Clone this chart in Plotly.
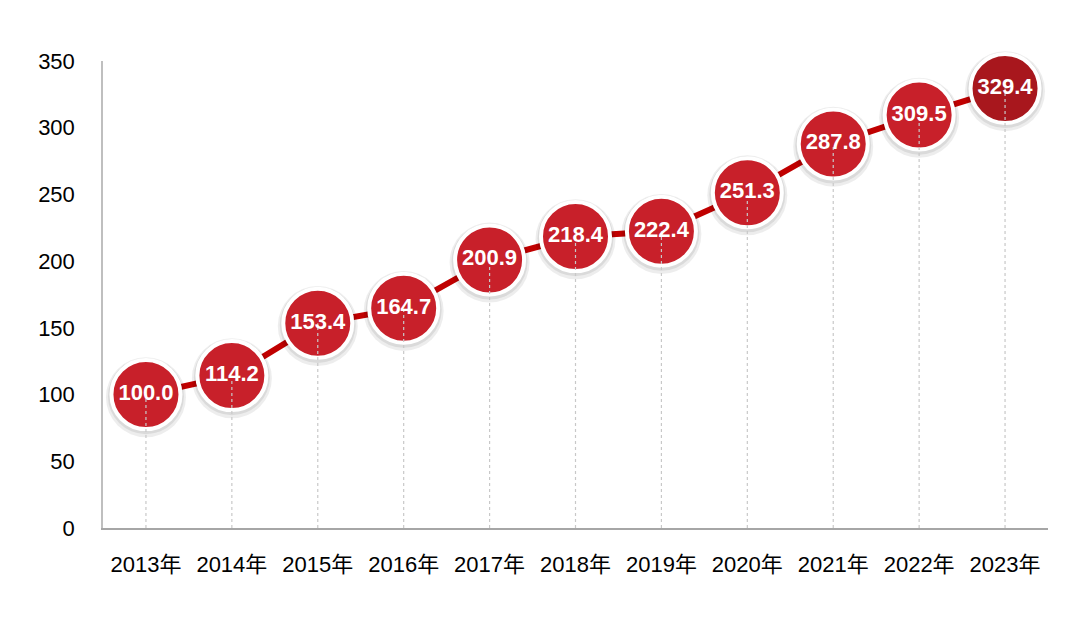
import plotly.graph_objects as go

years = ["2013年", "2014年", "2015年", "2016年", "2017年", "2018年",
         "2019年", "2020年", "2021年", "2022年", "2023年"]
values = [100.0, 114.2, 153.4, 164.7, 200.9, 218.4, 222.4, 251.3, 287.8, 309.5, 329.4]
y_ticks = [0, 50, 100, 150, 200, 250, 300, 350]

font_family = "Liberation Sans, Arial, Noto Sans CJK SC"
marker_colors = ["#C8202A"] * (len(values) - 1) + ["#A8171D"]

fig = go.Figure()

# connecting line
fig.add_trace(go.Scatter(
    x=years, y=values, mode="lines",
    line=dict(color="#C00000", width=6),
    hoverinfo="skip", showlegend=False, cliponaxis=False,
))

# soft shadow halo
fig.add_trace(go.Scatter(
    x=years, y=[v - 2.0 for v in values], mode="markers",
    marker=dict(size=80, color="rgba(0,0,0,0.07)", line=dict(width=0)),
    hoverinfo="skip", showlegend=False, cliponaxis=False,
))
fig.add_trace(go.Scatter(
    x=years, y=[v - 1.2 for v in values], mode="markers",
    marker=dict(size=76, color="rgba(0,0,0,0.08)", line=dict(width=0)),
    hoverinfo="skip", showlegend=False, cliponaxis=False,
))

# circles
fig.add_trace(go.Scatter(
    x=years, y=values, mode="markers",
    marker=dict(size=69, color=marker_colors, line=dict(color="white", width=4)),
    hoverinfo="skip", showlegend=False, cliponaxis=False,
))

# dashed drop lines
dx, dy = [], []
for yr, v in zip(years, values):
    dx += [yr, yr, None]
    dy += [0, v, None]
fig.add_trace(go.Scatter(
    x=dx, y=dy, mode="lines",
    line=dict(color="#C8C8C8", width=1.2, dash="3px,3px"),
    hoverinfo="skip", showlegend=False, cliponaxis=False,
))

# labels
fig.add_trace(go.Scatter(
    x=years, y=values, mode="text",
    text=[f"{v:.1f}" for v in values],
    textposition="middle center",
    textfont=dict(color="white", size=22, family=font_family, weight="bold"),
    hoverinfo="skip", showlegend=False, cliponaxis=False,
))

fig.update_layout(
    width=1080, height=624,
    margin=dict(l=95, r=40, t=53, b=104),
    paper_bgcolor="white", plot_bgcolor="white",
    font=dict(family=font_family, size=22, color="#000000"),
    showlegend=False,
)
fig.update_xaxes(
    type="category", range=[-0.5, len(years) - 0.5],
    showline=True, linecolor="#A6A6A6", linewidth=1.5,
    showgrid=False, zeroline=False, automargin=False,
    ticks="", ticklabelstandoff=16,
    tickfont=dict(size=22, family=font_family, color="#000000"),
)
fig.update_yaxes(
    range=[0, 350], tickvals=y_ticks,
    showline=True, linecolor="#BFBFBF", linewidth=1.5,
    showgrid=False, zeroline=False, automargin=False,
    ticks="", ticklabelstandoff=22,
    tickfont=dict(size=22, family=font_family, color="#000000"),
)

fig.write_html("out.html")
